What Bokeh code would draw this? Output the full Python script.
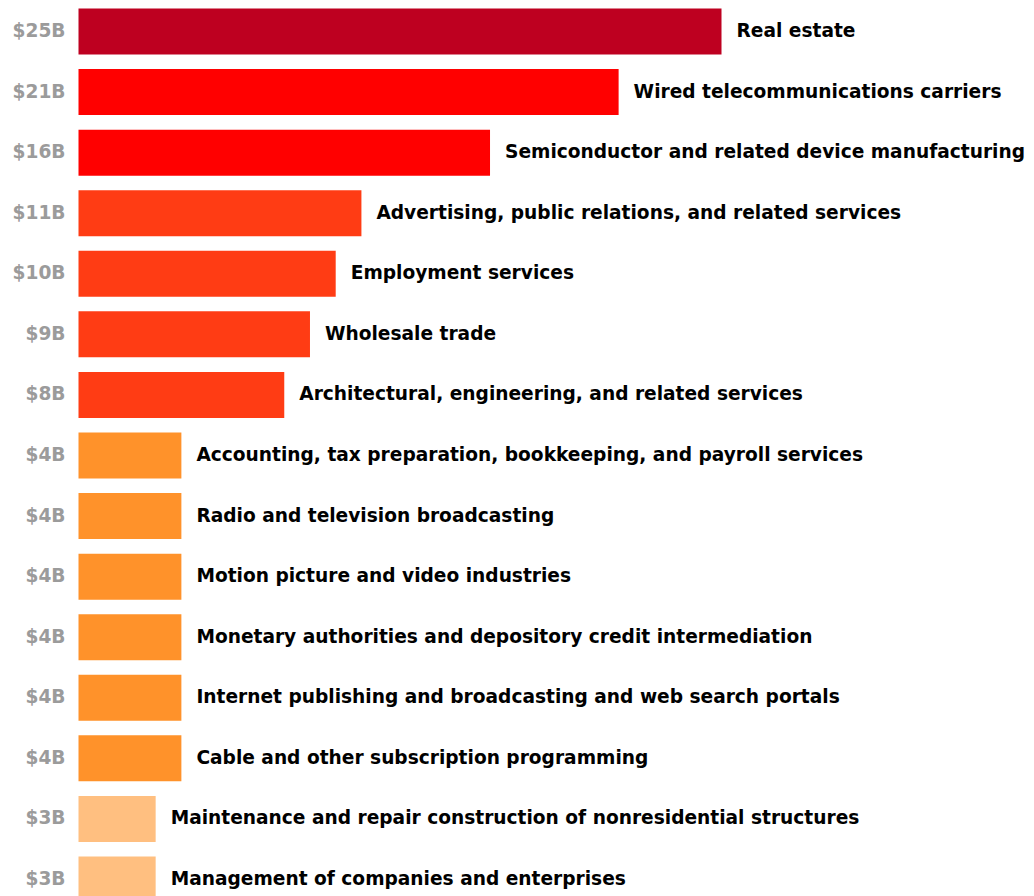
from bokeh.plotting import figure
from bokeh.models import Range1d, ColumnDataSource
from bokeh.core.properties import value
from bokeh.embed import file_html
from bokeh.resources import INLINE

categories = [
    "Real estate",
    "Wired telecommunications carriers",
    "Semiconductor and related device manufacturing",
    "Advertising, public relations, and related services",
    "Employment services",
    "Wholesale trade",
    "Architectural, engineering, and related services",
    "Accounting, tax preparation, bookkeeping, and payroll services",
    "Radio and television broadcasting",
    "Motion picture and video industries",
    "Monetary authorities and depository credit intermediation",
    "Internet publishing and broadcasting and web search portals",
    "Cable and other subscription programming",
    "Maintenance and repair construction of nonresidential structures",
    "Management of companies and enterprises",
]
values_b = [25, 21, 16, 11, 10, 9, 8, 4, 4, 4, 4, 4, 4, 3, 3]
value_labels = ["$25B", "$21B", "$16B", "$11B", "$10B", "$9B", "$8B",
                "$4B", "$4B", "$4B", "$4B", "$4B", "$4B", "$3B", "$3B"]
colors = ["#BE0020", "#FF0000", "#FF0000", "#FF3C14", "#FF3C14", "#FF3C14", "#FF3C14",
          "#FF922A", "#FF922A", "#FF922A", "#FF922A", "#FF922A", "#FF922A",
          "#FFBF80", "#FFBF80"]

W, H = 1034, 896
px_per_b = 25.72
left_px = 78
top_px = 8
row_px = 60.57
bar_frac = 46 / row_px

rows = list(range(len(categories)))
src = ColumnDataSource(dict(y=rows, v=values_b, cat=categories, lab=value_labels,
                            color=colors, zero=[0] * len(rows)))

y_top = -bar_frac / 2 - top_px / row_px
p = figure(width=W, height=H, output_backend="svg", toolbar_location=None,
           x_range=Range1d(-left_px / px_per_b, (W - left_px) / px_per_b),
           y_range=Range1d(y_top + H / row_px, y_top),
           min_border=0, outline_line_color=None)
p.axis.visible = False
p.grid.visible = False
p.background_fill_color = "white"
p.border_fill_color = "white"

p.hbar(y="y", left=0, right="v", height=bar_frac, color="color", line_color=None, source=src)
p.text(x="v", y="y", text="cat", source=src, x_offset=15, y_offset=-1, text_baseline="middle",
       text_align="left", text_font=value("DejaVu Sans"), text_font_style="bold",
       text_font_size="18.6px", text_color="#000000")
p.text(x="zero", y="y", text="lab", source=src, x_offset=-13, y_offset=-1, text_baseline="middle",
       text_align="right", text_font=value("DejaVu Sans"), text_font_style="bold",
       text_font_size="18.6px", text_color="#9B9B9B")

open("out.html", "w").write(file_html(p, INLINE))
